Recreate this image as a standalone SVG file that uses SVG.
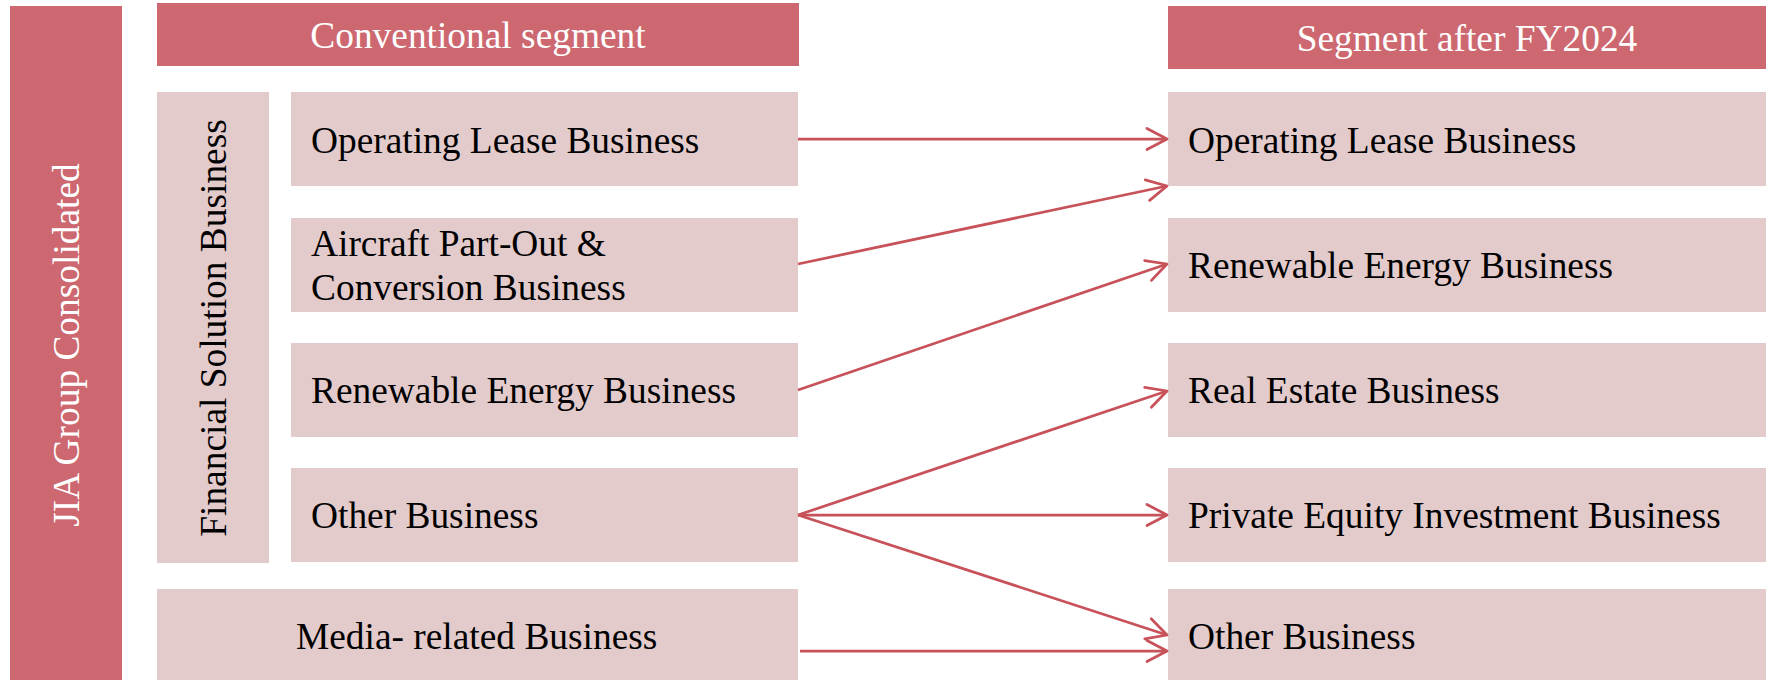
<svg xmlns="http://www.w3.org/2000/svg" width="1773" height="680" viewBox="0 0 1773 680">
<style>
.hdr{fill:#CD6870}
.box{fill:#E3CBCC}
.t{font-family:"Liberation Serif","Times New Roman",serif;font-size:37.4px;fill:#000}
.w{fill:#fff}
.c{stroke:#C8525A;stroke-width:2.75;fill:none}
</style>
<defs>
<marker id="arr" markerUnits="userSpaceOnUse" markerWidth="30" markerHeight="30" viewBox="-25 -15 30 30" refX="0" refY="0" orient="auto">
<path d="M-20,-10.5 L0,0 L-20,10.5" fill="none" stroke="#C8525A" stroke-width="2.75" stroke-linecap="round" stroke-linejoin="round"/>
</marker>
</defs>
<rect width="1773" height="680" fill="#fff"/>
<g id="jia"><rect class="hdr" x="10" y="6" width="112" height="674"/><text class="t w" transform="translate(79,345) rotate(-90)" text-anchor="middle">JIA Group Consolidated</text></g>
<g id="hdr-conv"><rect class="hdr" x="157" y="3" width="642" height="63"/><text class="t w" x="478" y="48" text-anchor="middle">Conventional segment</text></g>
<g id="hdr-new"><rect class="hdr" x="1168" y="6" width="598" height="63"/><text class="t w" x="1467" y="51" text-anchor="middle">Segment after FY2024</text></g>
<g id="fin"><rect class="box" x="157" y="92" width="112" height="471"/><text class="t" transform="translate(226,328) rotate(-90)" text-anchor="middle">Financial Solution Business</text></g>
<g id="l-op"><rect class="box" x="291" y="92" width="507" height="94"/><text class="t" x="311" y="153">Operating Lease Business</text></g>
<g id="l-air"><rect class="box" x="291" y="218" width="507" height="94"/><text class="t" x="311" y="256">Aircraft Part-Out &amp;</text><text class="t" x="311" y="300">Conversion Business</text></g>
<g id="l-ren"><rect class="box" x="291" y="343" width="507" height="94"/><text class="t" x="311" y="403">Renewable Energy Business</text></g>
<g id="l-oth"><rect class="box" x="291" y="468" width="507" height="94"/><text class="t" x="311" y="528">Other Business</text></g>
<g id="l-media"><rect class="box" x="157" y="589" width="641" height="91"/><text class="t" x="296" y="649">Media- related Business</text></g>
<g id="r-op"><rect class="box" x="1168" y="92" width="598" height="94"/><text class="t" x="1188" y="153">Operating Lease Business</text></g>
<g id="r-ren"><rect class="box" x="1168" y="218" width="598" height="94"/><text class="t" x="1188" y="278">Renewable Energy Business</text></g>
<g id="r-re"><rect class="box" x="1168" y="343" width="598" height="94"/><text class="t" x="1188" y="403">Real Estate Business</text></g>
<g id="r-pe"><rect class="box" x="1168" y="468" width="598" height="94"/><text class="t" x="1188" y="528">Private Equity Investment Business</text></g>
<g id="r-oth"><rect class="box" x="1168" y="589" width="598" height="91"/><text class="t" x="1188" y="649">Other Business</text></g>
<g id="connectors">
<line class="c" x1="798" y1="139" x2="1167" y2="139" marker-end="url(#arr)"/>
<line class="c" x1="798" y1="264" x2="1167" y2="186" marker-end="url(#arr)"/>
<line class="c" x1="798" y1="390" x2="1167" y2="264" marker-end="url(#arr)"/>
<line class="c" x1="798" y1="515" x2="1167" y2="391" marker-end="url(#arr)"/>
<line class="c" x1="798" y1="515" x2="1167" y2="515" marker-end="url(#arr)"/>
<line class="c" x1="798" y1="515" x2="1167" y2="635" marker-end="url(#arr)"/>
<line class="c" x1="800" y1="651" x2="1167" y2="651" marker-end="url(#arr)"/>
</g>
</svg>
